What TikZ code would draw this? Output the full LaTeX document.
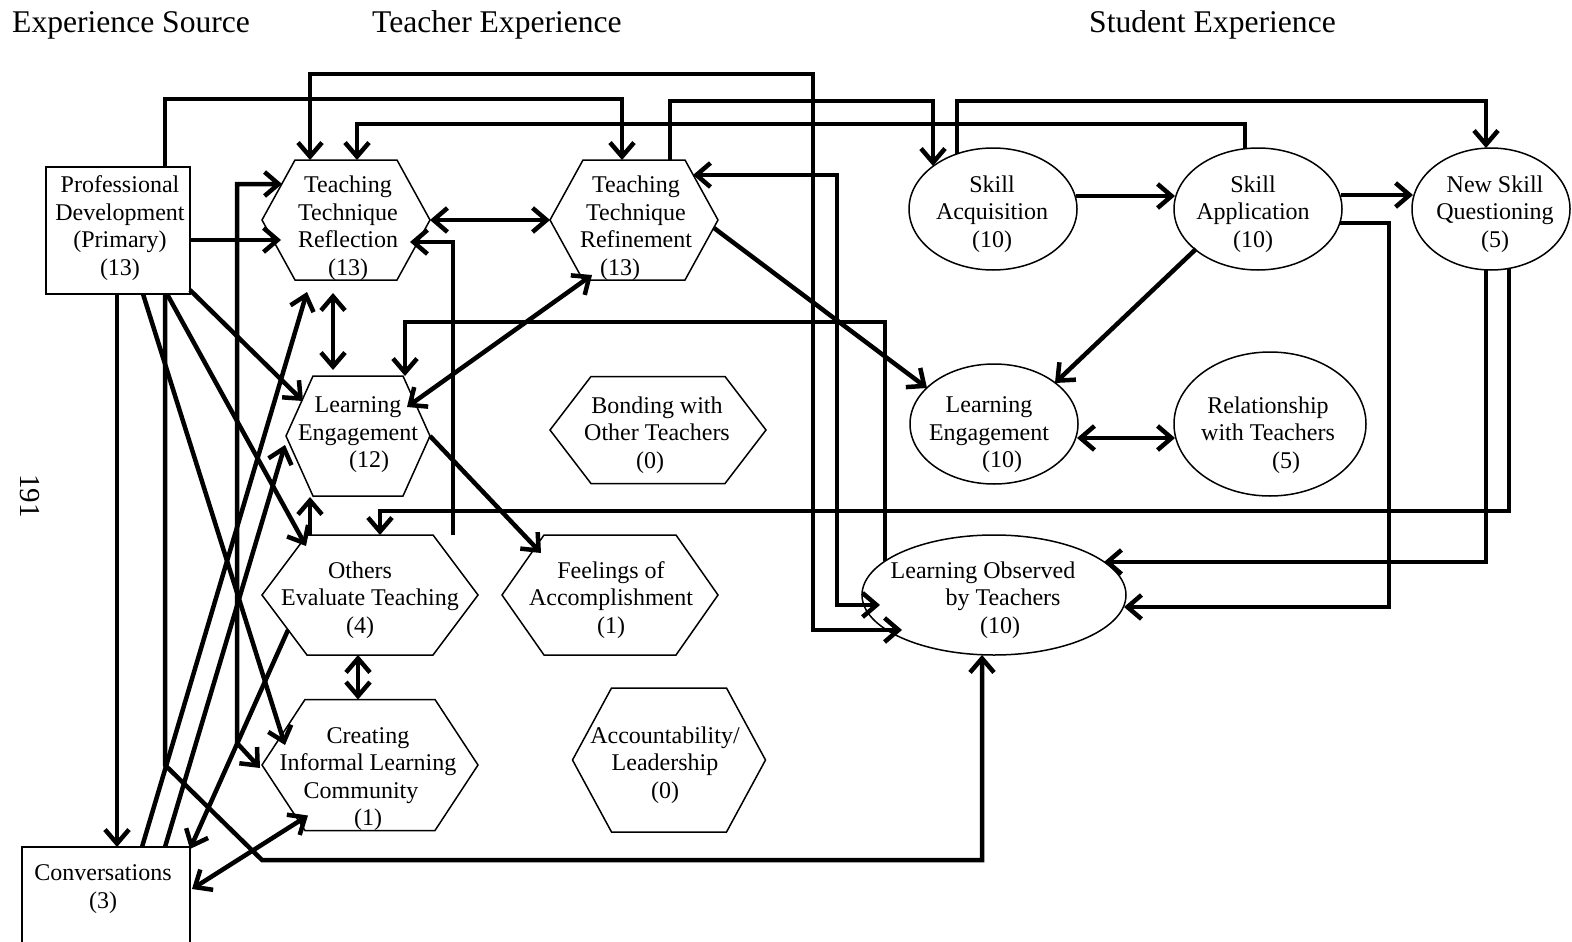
\documentclass[tikz,border=0pt]{standalone}
\usepackage{fontspec}
\setmainfont{Liberation Serif}
\usetikzlibrary{arrows.meta,shapes.geometric,calc}

\tikzset{
  tip/.tip={Straight Barb[length=14pt,width=24pt]},
  conn/.style={line width=4.5pt, -tip},
  conn2/.style={line width=4.5pt, tip-tip},
  outline/.style={line width=1.5pt, line join=miter},
  box/.style={inner sep=0pt, outer sep=0pt},
  oval/.style={ellipse, draw, line width=1.5pt, inner sep=0pt, outer sep=0pt},
  lbl/.style={align=center, inner sep=0pt, yshift=-3pt, font=\fontsize{24}{27.5}\selectfont},
  head/.style={anchor=base west, inner sep=0pt, font=\fontsize{31.6}{36}\selectfont},
}

% hexagon: name, centre, width, height, horizontal inset of the slanted sides
\newcommand\hexshape[5]{%
  \node[box, minimum width=#3pt, minimum height=#4pt] (#1) at (#2) {};
  \draw[outline] (#1.west) -- ([xshift=#5pt]#1.north west) -- ([xshift=-#5pt]#1.north east)
    -- (#1.east) -- ([xshift=-#5pt]#1.south east) -- ([xshift=#5pt]#1.south west) -- cycle;
}

\begin{document}
\begin{tikzpicture}[x=1pt,y=-1pt]
\fill[white] (0,0) rectangle (1572,942);
\useasboundingbox (0,0) rectangle (1572,942);

% column headings
\node[head] (h1) at (12,33) {Experience Source};
\node[head] (h2) at (372,33) {Teacher Experience};
\node[head] (h3) at (1089,33) {Student Experience};
\node[rotate=-90, inner sep=0pt, font=\fontsize{29}{30}\selectfont] (pg) at (30,496) {191};

% experience sources
\node[box, draw, line width=1.5pt, minimum width=144pt, minimum height=127pt] (PD) at (118,230.5) {};
\node[lbl] (PDt) at (120,225) {Professional\\Development\\(Primary)\\(13)};
\node[box, minimum width=168pt, minimum height=103pt] (CONV) at (106,898.5) {};
\draw[outline] (CONV.south west) -- (CONV.north west) -- (CONV.north east) -- (CONV.south east);
\node[lbl] (CONVt) at (103,886) {Conversations\\(3)};

% teacher experience
\hexshape{TTR}{346,220}{168}{120}{33}
\node[lbl] (TTRt) at (348,225) {Teaching\\Technique\\Reflection\\(13)};
\hexshape{TTF}{634,220}{168}{120}{33}
\node[lbl] (TTFt) at (636,225) {Teaching\\Technique\\Refinement\\\hspace*{-32pt}(13)};
\hexshape{LET}{358,436}{144}{120}{27}
\node[lbl] (LETt) at (358,432) {Learning\\Engagement\\\hspace*{22pt}(12)};
\hexshape{BOT}{658,430}{216}{107}{41}
\node[lbl] (BOTt) at (657,432) {Bonding with\\Other Teachers\\\hspace*{-14pt}(0)};
\hexshape{OET}{370,595}{216}{120}{45}
\node[lbl] (OETt) at (370,597) {\hspace*{-20pt}Others\\Evaluate Teaching\\\hspace*{-20pt}(4)};
\hexshape{FOA}{610,595}{216}{120}{42}
\node[lbl] (FOAt) at (611,597) {Feelings of\\Accomplishment\\(1)};
\hexshape{CILC}{370,765}{216}{131}{43}
\node[lbl] (CILCt) at (368,776) {Creating\\Informal Learning\\\hspace*{-14pt}Community\\(1)};
\hexshape{ACC}{669,760}{193}{144}{39}
\node[lbl] (ACCt) at (665,762) {Accountability/\\Leadership\\(0)};

% student experience
\node[oval, minimum width=168pt, minimum height=122pt] (SA) at (993,209) {};
\node[lbl] (SAt) at (992,211) {Skill\\Acquisition\\(10)};
\node[oval, minimum width=168pt, minimum height=122pt] (SAP) at (1258,209) {};
\node[lbl] (SAPt) at (1253,211) {Skill\\Application\\(10)};
\node[oval, minimum width=158pt, minimum height=122pt] (NSQ) at (1491,209) {};
\node[lbl] (NSQt) at (1495,211) {New Skill\\Questioning\\(5)};
\node[oval, minimum width=168pt, minimum height=120pt] (LES) at (994,424) {};
\node[lbl] (LESt) at (989,432) {Learning\\Engagement\\\hspace*{26pt}(10)};
\node[oval, minimum width=192pt, minimum height=144pt] (RWT) at (1270,424) {};
\node[lbl] (RWTt) at (1268,432) {Relationship\\with Teachers\\\hspace*{36pt}(5)};
\node[oval, minimum width=264pt, minimum height=120pt] (LO) at (994,595) {};
\node[lbl] (LOt) at (983,597) {Learning Observed\\\hspace*{40pt}by Teachers\\\hspace*{34pt}(10)};

% routed connectors along the top
\draw[conn] ([xshift=47pt]PD.north) -- ++(0,-68) -| ([xshift=-12pt]TTF.north);
\draw[conn2] ([xshift=-36pt]TTR.north) |- (813,74) |- ($(LO)+(-92,35)$);
\draw[conn] ([xshift=-13pt]SAP.north) -- ++(0,-24) -| ([xshift=11pt]TTR.north);
\draw[conn] ([xshift=36pt]TTF.north) -- ++(0,-59) -| ($(SA)+(-60,-43)$);
\draw[conn] ($(SA)+(-36,-55)$) -- ++(0,-53) -| ([xshift=-5pt]NSQ.north);

% student side
\draw[conn] ($(SA.east)+(-1,-13)$) -- ($(SAP.west)+(1,-13)$);
\draw[conn] ($(SAP.east)+(-1,-14)$) -- ($(NSQ.west)+(1,-14)$);
\draw[conn] ($(SAP.east)+(-2,14)$) -| (1389,607) -- ($(LO.east)+(-2,12)$);
\draw[conn] ([xshift=-5pt]NSQ.south) |- ($(LO)+(110,-33)$);
\draw[conn] ($(NSQ)+(18,59)$) |- (380,511) -- ([xshift=10pt]OET.north);
\draw[conn] ($(SAP)+(-62,40)$) -- ($(LES)+(61,-41)$);
\draw[conn] ($(TTF.east)+(-4,8)$) -- ($(LES)+(-67,-36)$);
\draw[conn2] ($(LES.east)+(-1,14)$) -- ($(RWT.west)+(1,14)$);
\draw[conn] ($(LO)+(-109,-34)$) |- (405,322) -- ([xshift=47pt]LET.north);
\draw[conn2] ($(TTF.north east)+(-25,15)$) -| (837,605) -- ($(LO)+(-114,10)$);

% from the experience sources
\draw[conn] ([xshift=47pt]PD.south) -- (165,765) -- (262,860) -| ([xshift=-12pt]LO.south);
\draw[conn] ([xshift=-1pt]PD.south) -- ([xshift=11pt]CONV.north);
\draw[conn] ($(PD.south east)+(0,-4)$) -- ($(LET.west)+(17,-35)$);
\draw[conn] ([xshift=49pt]PD.south) -- ($(OET.north west)+(44,11)$);
\draw[conn] ([xshift=25pt]PD.south) -- ($(CILC.west)+(23,-20)$);
\draw[conn2] ($(TTR.west)+(20,-36)$) -| (237,743) -- ($(CILC.west)+(-2,3)$);
\draw[conn] ($(PD.east)+(0,9.5)$) -- ($(TTR.west)+(19,20)$);
\draw[conn] ([xshift=36pt]CONV.north) -- ($(TTR.south)+(-39,12)$);
\draw[conn] ([xshift=59pt]CONV.north) -- ($(LET.west)+(-1,9)$);
\draw[conn] ($(OET.west)+(26,35)$) -- ($(CONV.north east)+(0,2)$);
\draw[conn2] ($(CONV.north east)+(2,42)$) -- ($(CILC.south west)+(46,-15)$);

% teacher side
\draw[conn] ([xshift=-60pt]OET.north) -- ($(LET.south west)+(24,1)$);
\draw[conn2] ($(TTR.south)+(-13,13)$) -- ($(LET.north)+(-25,-6)$);
\draw[conn2] (TTR.east) -- (TTF.west);
\draw[conn2] ($(TTF.south)+(-42,-5)$) -- ($(LET.north east)+(-23,31)$);
\draw[conn2] ([xshift=-12pt]OET.south) -- ([xshift=-12pt]CILC.north);
\draw[conn] (LET.east) -- ($(FOA.north west)+(39,18)$);
\draw[conn] ($(OET.north east)+(-25,0)$) |- ($(TTR.east)+(-20,22)$);
\end{tikzpicture}
\end{document}
